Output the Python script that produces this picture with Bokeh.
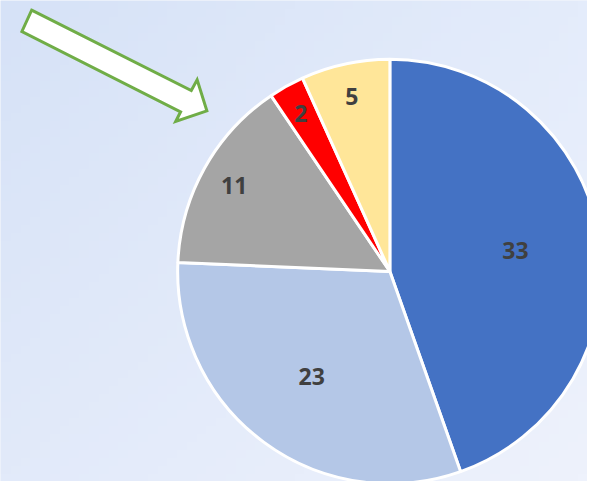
import numpy as np
from bokeh.plotting import figure
from bokeh.models import ColumnDataSource, Range1d
from bokeh.core.properties import value
from bokeh.embed import file_html
from bokeh.resources import INLINE

# ---- data ----
labels = ["33", "23", "11", "2", "5"]
values = [33, 23, 11, 2, 5]
colors = ["#4472C4", "#B4C7E7", "#A5A5A5", "#FF0000", "#FFE699"]
label_radius = [0.60, 0.62, 0.84, 0.86, 0.85]  # fraction of pie radius (style)

# canvas coordinates: 603 x 497 units mapped onto the figure
CW, CH = 603, 497
W, H = 587, 481
p = figure(width=W, height=H, output_backend="svg", toolbar_location=None,
           x_range=Range1d(0, CW), y_range=Range1d(0, CH),
           min_border=0)
p.axis.visible = False
p.grid.visible = False
p.outline_line_color = None
p.background_fill_color = "#E4EBF9"
p.border_fill_color = "#E4EBF9"

# background soft gradient
ny, nx = 60, 60
img = np.zeros((ny, nx), dtype=np.uint32)
view = img.view(dtype=np.uint8).reshape((ny, nx, 4))
tl = np.array([214, 226, 247]); tr = np.array([228, 236, 251])
bl = np.array([226, 234, 250]); br = np.array([238, 242, 252])
for j in range(ny):       # j = 0 is bottom row
    v = j / (ny - 1)
    for i in range(nx):
        u = i / (nx - 1)
        c = (1 - v) * ((1 - u) * bl + u * br) + v * ((1 - u) * tl + u * tr)
        view[j, i, :3] = c.astype(np.uint8)
        view[j, i, 3] = 255
p.image_rgba(image=[img], x=0, y=0, dw=CW, dh=CH)

# pie
cx, cy, R = 400, CH - 280, 218
vals = np.array(values, dtype=float)
frac = vals / vals.sum()
cum_end = np.cumsum(frac) * 2 * np.pi
cum_start = cum_end - frac * 2 * np.pi
start = np.pi / 2 - cum_end
end = np.pi / 2 - cum_start
mid = (start + end) / 2
lr = np.array(label_radius) * R
src = ColumnDataSource(dict(start=start, end=end, color=colors, labels=labels,
                            lx=cx + lr * np.cos(mid), ly=cy + lr * np.sin(mid)))
p.wedge(x=cx, y=cy, radius=R, start_angle="start", end_angle="end",
        fill_color="color", line_color="white", line_width=3, source=src)
p.text(x="lx", y="ly", text="labels", source=src, text_align="center",
       text_baseline="middle", text_font=value("Open Sans"),
       text_font_style="bold", text_font_size="23px", text_color="#404040")

# decorative hollow arrow
ax = [32, 196, 202, 212, 180, 185, 22]
ay = [CH - y for y in [10, 93, 82, 114, 125, 115, 32]]
p.patch(ax, ay, fill_color="white", line_color="#70AD47", line_width=3,
        line_join="miter")

open("out.html", "w").write(file_html(p, INLINE))
